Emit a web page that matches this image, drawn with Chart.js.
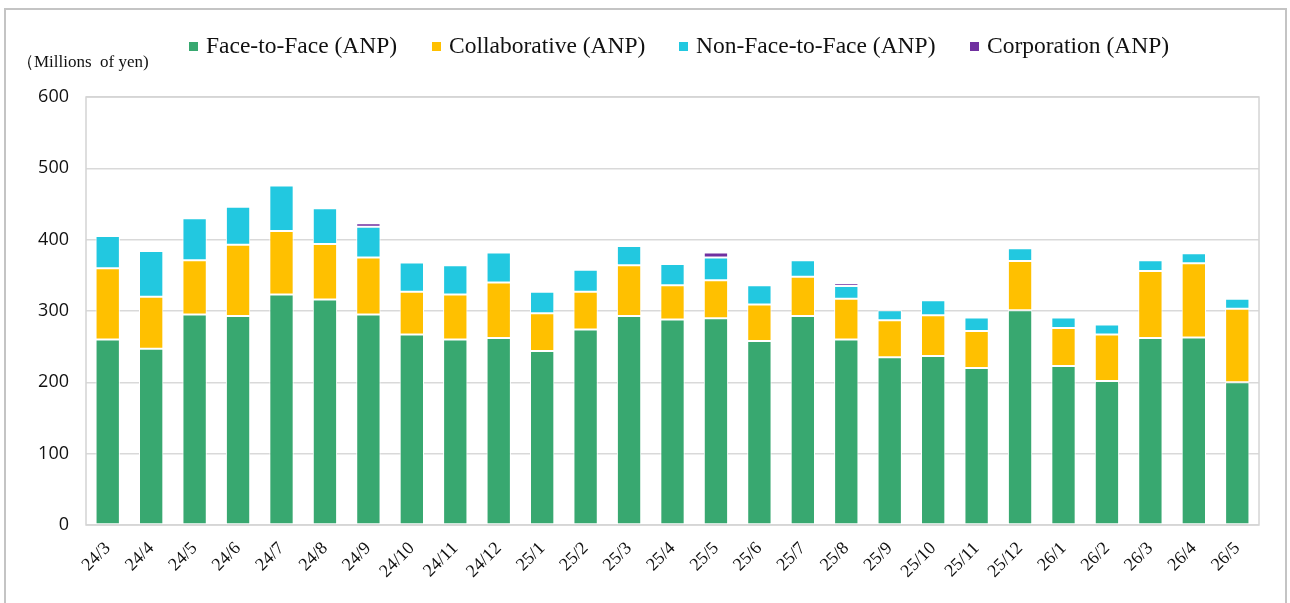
<!DOCTYPE html>
<html>
<head>
<meta charset="utf-8">
<script src="https://cdn.jsdelivr.net/npm/chart.js@4"></script>
<style>
  html, body { margin: 0; padding: 0; background: #fff; }
  #wrap { position: relative; width: 1290px; height: 603px; overflow: hidden; }
  #frame { position: absolute; left: 4px; top: 8px; width: 1283px; height: 620px;
           border: 2px solid #c4c4c4; border-bottom: none; box-sizing: border-box; }
  #chart { position: absolute; left: 0; top: 0; }
</style>
</head>
<body>
<div id="wrap">
  <div id="frame"></div>
  <canvas id="chart" width="1290" height="603"></canvas>
</div>
<script>
const MONTHS = ["24/3", "24/4", "24/5", "24/6", "24/7", "24/8", "24/9", "24/10", "24/11", "24/12",
  "25/1", "25/2", "25/3", "25/4", "25/5", "25/6", "25/7", "25/8", "25/9", "25/10", "25/11", "25/12",
  "26/1", "26/2", "26/3", "26/4", "26/5"];

const FACE_TO_FACE = [260, 247, 295, 293, 323, 316, 295, 267, 260, 262,
  244, 274, 293, 288, 290, 258, 293, 260, 235, 237, 220, 301,
  223, 202, 262, 263, 200];
const COLLABORATIVE = [100, 73, 76, 100, 89, 78, 80, 60, 63, 78,
  53, 53, 71, 48, 53, 51, 55, 57, 52, 57, 52, 69,
  53, 65, 94, 104, 103];
const NON_FACE = [45, 64, 59, 53, 64, 50, 43, 41, 41, 42,
  30, 31, 27, 30, 32, 27, 23, 18, 14, 21, 19, 18,
  15, 14, 15, 14, 14];
const CORPORATION = [0, 0, 0, 0, 0, 0, 5, 0, 0, 0,
  0, 0, 0, 0, 7, 0, 0, 4, 0, 0, 0, 0,
  0, 0, 0, 0, 0];

const Y_TICKS = [0, 100, 200, 300, 400, 500, 600];

const SERIES = [
  { label: "Face-to-Face (ANP)", data: FACE_TO_FACE, color: "#38a870" },
  { label: "Collaborative (ANP)", data: COLLABORATIVE, color: "#ffc000" },
  { label: "Non-Face-to-Face (ANP)", data: NON_FACE, color: "#22c8e0" },
  { label: "Corporation (ANP)", data: CORPORATION, color: "#7030a0" },
];

// x of each legend swatch
const LEGEND_X = [189, 432, 679, 970];

const SERIF = '"Liberation Serif", "Times New Roman", serif';

// plot area outline, under the bars
const plotFrame = {
  id: "plotFrame",
  beforeDatasetsDraw(chart) {
    const { ctx, chartArea: a } = chart;
    ctx.save();
    ctx.strokeStyle = "#d4d4d4";
    ctx.lineWidth = 1.5;
    ctx.strokeRect(a.left, a.top, a.right - a.left, a.bottom - a.top);
    ctx.restore();
  },
};

// legend row + unit label
const topTexts = {
  id: "topTexts",
  afterDraw(chart) {
    const ctx = chart.ctx;
    ctx.save();
    ctx.fillStyle = "#111";
    ctx.textBaseline = "middle";
    ctx.font = "17px " + SERIF;
    ctx.fillText("（Millions  of yen)", 17, 63);

    ctx.font = "23.5px " + SERIF;
    SERIES.forEach((s, i) => {
      const x = LEGEND_X[i];
      ctx.fillStyle = s.color;
      ctx.fillRect(x, 42, 9, 9);
      ctx.fillStyle = "#111";
      ctx.fillText(s.label, x + 17, 47);
    });
    ctx.restore();
  },
};

new Chart(document.getElementById("chart"), {
  type: "bar",
  data: {
    labels: MONTHS,
    datasets: SERIES.map((s) => ({
      label: s.label,
      data: s.data,
      backgroundColor: s.color,
      borderColor: "#ffffff",
      borderWidth: 1,
      borderSkipped: false,
      barPercentage: 0.56,
      categoryPercentage: 1,
    })),
  },
  options: {
    responsive: false,
    animation: false,
    layout: { padding: { top: 97, right: 31, left: 0, bottom: 0 } },
    plugins: { legend: { display: false }, tooltip: { enabled: false } },
    scales: {
      x: {
        stacked: true,
        grid: { display: false },
        border: { display: false },
        ticks: {
          color: "#111",
          font: { family: SERIF, size: 18 },
          minRotation: 45,
          maxRotation: 45,
          autoSkip: false,
          padding: 5,
        },
        afterFit(scale) { scale.height = 78; },
      },
      y: {
        stacked: true,
        min: 0,
        max: 600,
        afterBuildTicks(scale) { scale.ticks = Y_TICKS.map((v) => ({ value: v })); },
        grid: { color: "#d9d9d9", lineWidth: 1.5, drawTicks: false },
        border: { display: false },
        ticks: {
          color: "#111",
          font: { family: '"Open Sans", sans-serif', size: 18 },
          padding: 17,
        },
        afterFit(scale) { scale.width = 86; },
      },
    },
  },
  plugins: [plotFrame, topTexts],
});
</script>
</body>
</html>
